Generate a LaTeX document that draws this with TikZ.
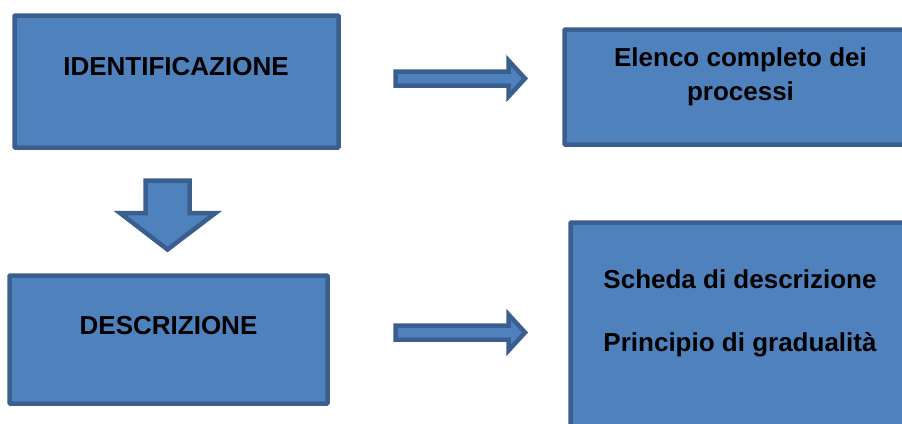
\documentclass[tikz,border=0pt]{standalone}
\usepackage{fontspec}
\setmainfont{Liberation Sans}
\definecolor{boxfill}{HTML}{4F81BD}
\definecolor{boxline}{HTML}{3A5F8E}
\begin{document}
\begin{tikzpicture}[x=1pt,y=-1pt,
  box/.style={draw=boxline,fill=boxfill,line width=4.5pt,rounded corners=0.8pt},
  blockarrow/.style={draw=boxline,fill=boxfill,line width=4.5pt,line join=miter},
  lbl/.style={font=\fontsize{26}{39}\selectfont\bfseries,anchor=base,inner sep=0pt,align=center,text=black}]
\useasboundingbox (0,0) rectangle (902,423);
\clip (0,0) rectangle (902,423);
% boxes
\draw[box] (14.5,15.5) rectangle (338.5,147.5);
\draw[box] (564.5,29.5) rectangle (915,144.5);
\draw[box] (9.5,275.5) rectangle (327.5,403.5);
\draw[box] (570.5,222.5) rectangle (915,445);
% labels
\node[lbl] (ident) at (176,75) {IDENTIFICAZIONE};
\node[lbl] (elenco1) at (740.5,66) {Elenco completo dei};
\node[lbl] (elenco2) at (740.5,100) {processi};
\node[lbl] (descr) at (168.5,334) {DESCRIZIONE};
\node[lbl] (scheda) at (740,288.5) {Scheda di descrizione};
\node[lbl] (princ) at (740,351.5) {Principio di gradualità};
% right arrows
\draw[blockarrow] (395.5,71.5) -- (508.5,71.5) -- (508.5,60.5) -- (525,78.5) -- (508.5,96.5) -- (508.5,85.5) -- (395.5,85.5) -- cycle;
\draw[blockarrow] (395.5,325.5) -- (508.5,325.5) -- (508.5,314.5) -- (525,332.5) -- (508.5,350.5) -- (508.5,339.5) -- (395.5,339.5) -- cycle;
% down arrow
\draw[blockarrow] (145.5,180.5) -- (189.5,180.5) -- (189.5,213) -- (215.5,213) -- (167.5,249.5) -- (120,213) -- (145.5,213) -- cycle;
\end{tikzpicture}
\end{document}
